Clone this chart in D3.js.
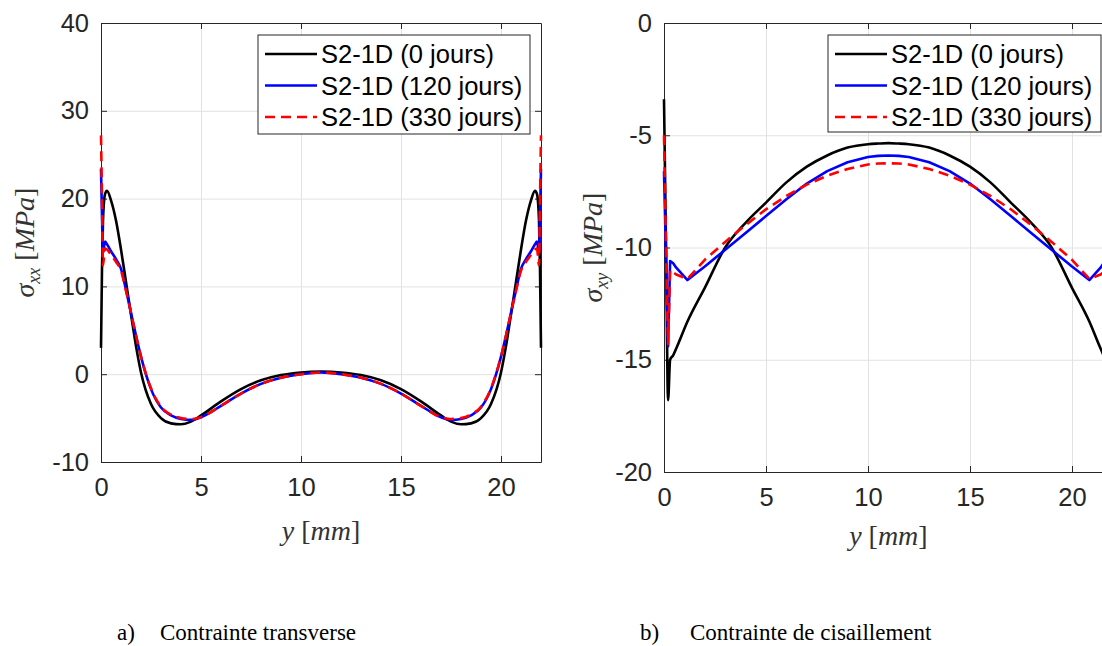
<!DOCTYPE html>
<html><head><meta charset="utf-8">
<script src="https://cdn.jsdelivr.net/npm/d3@7"></script>
<style>
body{margin:0;background:#fff;}
svg{display:block;}
.grid line{stroke:#e2e2e2;stroke-width:1;}
.grid path{display:none;}
.ax path,.ax line{stroke:#262626;stroke-width:1;}
.ax text{font-family:"Liberation Sans",Arial,sans-serif;font-size:25.5px;fill:#262626;}
</style></head><body>
<svg id="fig" width="1102" height="646"></svg>
<script>
// ---------- data ----------
const seriesNames = ["S2-1D (0 jours)", "S2-1D (120 jours)", "S2-1D (330 jours)"];
const seriesColors = ["#000000", "#0000ff", "#ff0000"];

// panel a) transverse stress sigma_xx
const xTicksA = [0, 5, 10, 15, 20];
const yTicksA = [-10, 0, 10, 20, 30, 40];
const posA = [0,0.05,0.1,0.2,0.3,0.5,0.75,1,1.25,1.5,1.75,2,2.5,3,3.5,4,4.5,5,6,7,8,9,10,11,12,13,14,15,16,17,17.5,18,18.5,19,19.5,20,20.25,20.5,20.75,21,21.25,21.5,21.7,21.8,21.9,21.95,22];
const sxx0 = [3,12,17.5,20.5,20.9,19.8,17.5,14.2,10.5,6.8,3.2,0.2,-3.4,-5.0,-5.6,-5.7,-5.4,-4.7,-3.1,-1.7,-0.7,-0.1,0.2,0.3,0.2,-0.1,-0.7,-1.7,-3.1,-4.7,-5.4,-5.7,-5.6,-5.0,-3.4,0.2,3.2,6.8,10.5,14.2,17.5,19.8,20.9,20.5,17.5,12,3];
const sxx120 = [23.4,18,13.8,15.1,14.8,14.0,13.1,12.0,9.6,7.0,4.4,2.0,-1.7,-3.8,-4.7,-5.1,-5.2,-4.9,-3.6,-2.2,-1.1,-0.4,0.0,0.2,0.0,-0.4,-1.1,-2.2,-3.6,-4.9,-5.2,-5.1,-4.7,-3.8,-1.7,2.0,4.4,7.0,9.6,12.0,13.1,14.0,14.8,15.1,13.8,18,23.4];
const sxx330 = [27.2,20,12.4,14.3,14.2,13.6,12.8,11.8,9.5,7.0,4.4,2.0,-1.6,-3.7,-4.6,-5.0,-5.1,-4.9,-3.6,-2.2,-1.1,-0.4,0.0,0.2,0.0,-0.4,-1.1,-2.2,-3.6,-4.9,-5.1,-5.0,-4.6,-3.7,-1.6,2.0,4.4,7.0,9.5,11.8,12.8,13.6,14.2,14.3,12.4,20,27.2];

// panel b) shear stress sigma_xy
const xTicksB = [0, 5, 10, 15, 20];
const yTicksB = [-20, -15, -10, -5, 0];
const posB = [0,0.1,0.2,0.3,0.45,0.6,1.15,2,3,4,5,6,7,8,9,10,10.5,11,11.5,12,13,14,15,16,17,18,19,20,20.85,21.4,21.55,21.7,21.8,21.9,22];
const sxy0 = [-3.4,-10,-16.8,-15.0,-14.8,-14.5,-13.3,-11.8,-10.0,-8.9,-8.0,-7.1,-6.4,-5.9,-5.55,-5.4,-5.37,-5.35,-5.37,-5.4,-5.55,-5.9,-6.4,-7.1,-8.0,-8.9,-10.0,-11.8,-13.3,-14.5,-14.8,-15.0,-16.8,-10,-3.4];
const sxy120 = [-6.6,-10.5,-14.4,-10.6,-10.7,-10.9,-11.45,-10.85,-10.1,-9.35,-8.6,-7.85,-7.15,-6.6,-6.2,-5.97,-5.92,-5.9,-5.92,-5.97,-6.2,-6.6,-7.15,-7.85,-8.6,-9.35,-10.1,-10.85,-11.45,-10.9,-10.7,-10.6,-14.4,-10.5,-6.6];
const sxy330 = [-5.0,-10,-14.3,-11.0,-11.1,-11.2,-11.4,-10.55,-9.75,-9.0,-8.3,-7.7,-7.2,-6.8,-6.5,-6.3,-6.26,-6.25,-6.26,-6.3,-6.5,-6.8,-7.2,-7.7,-8.3,-9.0,-9.75,-10.55,-11.4,-11.2,-11.1,-11.0,-14.3,-10,-5.0];

// ---------- drawing ----------
const svg = d3.select('#fig');
const fmt = d => String(d);

function panel(o){
  const x = d3.scaleLinear().domain(o.xDomain).range(o.xRange);
  const y = d3.scaleLinear().domain(o.yDomain).range(o.yRange);
  const [x0,x1] = o.xRange, [yb,yt] = o.yRange;
  const g = svg.append('g');

  g.append('g').attr('class','grid').attr('transform',`translate(0,${yb})`)
    .call(d3.axisBottom(x).tickValues(o.xTicks).tickSize(-(yb-yt)).tickFormat(''));
  g.append('g').attr('class','grid').attr('transform',`translate(${x0},0)`)
    .call(d3.axisLeft(y).tickValues(o.yTicks).tickSize(-(x1-x0)).tickFormat(''));

  g.append('g').attr('class','ax').attr('transform',`translate(0,${yb})`)
    .call(d3.axisBottom(x).tickValues(o.xTicks).tickFormat(fmt).tickSizeInner(-6).tickSizeOuter(0).tickPadding(16));
  g.append('g').attr('class','ax').attr('transform',`translate(0,${yt})`)
    .call(d3.axisTop(x).tickValues(o.xTicks).tickSizeInner(-6).tickSizeOuter(0).tickFormat(''));
  g.append('g').attr('class','ax').attr('transform',`translate(${x0},0)`)
    .call(d3.axisLeft(y).tickValues(o.yTicks).tickFormat(fmt).tickSizeInner(-6).tickSizeOuter(0).tickPadding(12));
  g.append('g').attr('class','ax').attr('transform',`translate(${x1},0)`)
    .call(d3.axisRight(y).tickValues(o.yTicks).tickSizeInner(-6).tickSizeOuter(0).tickFormat(''));

  o.series.forEach((vals,i)=>{
    const line = d3.line().x(d=>x(d[0])).y(d=>y(d[1])).curve(o.curves[i]);
    g.append('path').datum(vals.map((v,k)=>[o.pos[k],v]))
      .attr('d',line).attr('fill','none')
      .attr('stroke',seriesColors[i]).attr('stroke-width',2.6)
      .attr('stroke-linejoin','round')
      .attr('stroke-dasharray', i===2 ? '10,6' : null);
  });

  // legend
  const L = o.legend;
  const lg = g.append('g').attr('transform',`translate(${L.x},${L.y})`);
  lg.append('rect').attr('width',L.w).attr('height',L.h).attr('fill','#fff').attr('stroke','#262626').attr('stroke-width',1);
  seriesNames.forEach((n,i)=>{
    const cy = 19 + i*31.5;
    lg.append('line').attr('x1',7).attr('x2',59).attr('y1',cy).attr('y2',cy)
      .attr('stroke',seriesColors[i]).attr('stroke-width',2.6)
      .attr('stroke-dasharray', i===2 ? '10,6' : null);
    lg.append('text').attr('x',63).attr('y',cy).attr('dy','0.36em')
      .attr('font-family','"Liberation Sans",Arial,sans-serif').attr('font-size',25.5)
      .attr('fill','#000').text(n);
  });

  // x label
  const xl = g.append('text').attr('x',(x0+x1)/2).attr('y',o.xLabelY)
    .attr('text-anchor','middle').attr('font-family','"Liberation Serif","Times New Roman",serif')
    .attr('font-size',28).attr('fill','#333');
  xl.append('tspan').attr('font-style','italic').text('y');
  xl.append('tspan').text(' [');
  xl.append('tspan').attr('font-style','italic').text('mm');
  xl.append('tspan').text(']');

  // y label
  const yl = g.append('text').attr('transform',`translate(${o.yLabelX},${(yb+yt)/2}) rotate(-90)`)
    .attr('text-anchor','middle').attr('font-family','"Liberation Serif","Times New Roman",serif')
    .attr('font-size',28).attr('fill','#333');
  yl.append('tspan').attr('font-style','italic').text('σ');
  yl.append('tspan').attr('font-style','italic').attr('font-size',18).attr('dy',6).text(o.sub);
  yl.append('tspan').attr('dy',-6).text(' [');
  yl.append('tspan').attr('font-style','italic').text('MPa');
  yl.append('tspan').text(']');

  // caption
  const cap = svg.append('text').attr('x',o.cap.x).attr('y',640)
    .attr('font-family','"Liberation Serif","Times New Roman",serif').attr('font-size',23).attr('fill','#000');
  cap.append('tspan').text(o.cap.a);
  cap.append('tspan').attr('x',o.cap.x2).text(o.cap.b);
}

panel({
  xDomain:[0,22], xRange:[101,541], yDomain:[-10,40], yRange:[462,23],
  xTicks:xTicksA, yTicks:yTicksA, pos:posA, series:[sxx0,sxx120,sxx330],
  curves:[d3.curveMonotoneX,d3.curveMonotoneX,d3.curveMonotoneX],
  legend:{x:258,y:35,w:272,h:99}, xLabelY:540, yLabelX:34, sub:'xx',
  cap:{x:117,x2:160,a:'a)',b:'Contrainte transverse'}
});
panel({
  xDomain:[0,22], xRange:[664,1112.8], yDomain:[-20,0], yRange:[472,23],
  xTicks:xTicksB, yTicks:yTicksB, pos:posB, series:[sxy0,sxy120,sxy330],
  curves:[d3.curveMonotoneX,d3.curveLinear,d3.curveLinear],
  legend:{x:828,y:35,w:273,h:97}, xLabelY:545, yLabelX:602, sub:'xy',
  cap:{x:640,x2:690,a:'b)',b:'Contrainte de cisaillement'}
});
</script>
</body></html>
